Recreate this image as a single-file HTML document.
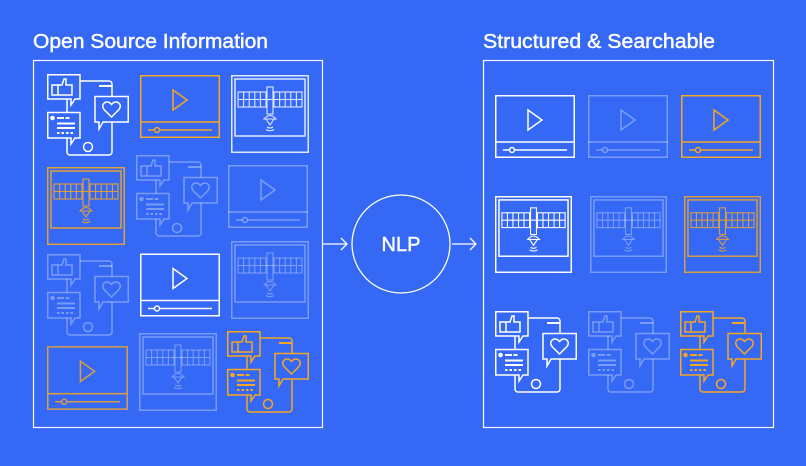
<!DOCTYPE html>
<html><head><meta charset="utf-8"><style>
html,body{margin:0;padding:0;background:#3468F5;}
svg{display:block}
text{font-family:"Liberation Sans",sans-serif;fill:#fff}
.t{stroke:#fff;stroke-width:0.45}
.w{color:#ffffff}.f{color:rgba(255,255,255,0.35)}.o{color:#F5A623}
</style></head><body>
<svg width="806" height="466" viewBox="0 0 806 466" xmlns="http://www.w3.org/2000/svg">
<defs>
<symbol id="vid" viewBox="0 0 80 63">
 <g fill="none" stroke="currentColor" stroke-width="1.5">
  <rect x="0.75" y="0.75" width="78.5" height="61.5"/>
  <line x1="0" y1="47" x2="80" y2="47"/>
  <line x1="8" y1="55" x2="72" y2="55"/>
  <circle cx="17" cy="55" r="2.5" fill="#3468F5"/>
  <path d="M33 15 L47 25 L33 35 Z"/>
 </g>
</symbol>
<symbol id="sat" viewBox="0 0 78 78">
 <g fill="none" stroke="currentColor" stroke-width="1.1">
  <rect x="0.75" y="0.75" width="76.5" height="76.5" stroke-width="1.5"/>
  <rect x="4" y="4" width="70" height="57" stroke-width="1.5"/>
  <rect x="7" y="17" width="28" height="15"/>
  <path d="M7 24.5H35M12.6 17V32M18.2 17V32M23.8 17V32M29.4 17V32"/>
  <rect x="43" y="17" width="28" height="15"/>
  <path d="M43 24.5H71M48.6 17V32M54.2 17V32M59.8 17V32M65.4 17V32"/>
  <rect x="36" y="12" width="6" height="27"/>
  <path d="M35 24.5H43"/>
  <path d="M33 44 Q39 37 45 44 Z"/>
  <path d="M35 44 L39 50 L43 44 M36 52 Q39 54 42 52 M35 54.5 Q39 57 43 54.5"/>
 </g>
</symbol>
<symbol id="soc" viewBox="0 0 82 82">
 <g fill="none" stroke="currentColor" stroke-width="1.5">
  <rect x="20" y="7" width="45" height="74" rx="3"/>
  <path d="M0.75 0.75H33V25H28L24 31V25H0.75Z" fill="#3468F5"/>
  <path d="M5 11H11V21H5Z M11 11H15L17 5H19V11H25V21H11"/>
  <path d="M48 22.5H81.25V48H56L52 55V48H48Z" fill="#3468F5"/>
  <path d="M64.5 43 L57 35.5 Q54 31 58 28.5 Q61.5 27 64.5 30.5 Q67.5 27 71 28.5 Q75 31 72 35.5 Z"/>
  <path d="M0.75 38.5H33V64H28L24 70V64H0.75Z" fill="#3468F5"/>
  <circle cx="41" cy="73" r="4.5"/>
 </g>
 <g fill="currentColor">
  <rect x="52" y="11" width="13" height="2"/>
  <circle cx="5.5" cy="44" r="2.3"/>
  <rect x="10" y="43" width="7" height="2"/><rect x="18.5" y="43" width="4" height="2"/>
  <rect x="10" y="48.5" width="18" height="2"/><rect x="10" y="53" width="18" height="2"/>
  <rect x="10" y="58" width="2.5" height="2"/><rect x="14.5" y="58" width="2.5" height="2"/><rect x="19" y="58" width="2.5" height="2"/><rect x="23.5" y="58" width="2.5" height="2"/>
 </g>
</symbol>
</defs>

<text class="t" x="33" y="48" font-size="20" textLength="235" lengthAdjust="spacingAndGlyphs">Open Source Information</text>
<text class="t" x="483" y="48" font-size="20" textLength="232" lengthAdjust="spacingAndGlyphs">Structured &amp; Searchable</text>

<rect x="33.5" y="60.5" width="289" height="367" fill="none" stroke="#fff" stroke-width="1.2"/>
<rect x="483.5" y="60.5" width="290" height="367" fill="none" stroke="#fff" stroke-width="1.2"/>

<use href="#soc" class="w" x="47" y="74" width="82" height="82"/>
<use href="#vid" class="o" x="140" y="75" width="80" height="63"/>
<use href="#sat" class="w" x="231" y="75" width="78" height="78" opacity="0.85"/>

<use href="#sat" class="o" x="47" y="167" width="78" height="78" opacity="0.9"/>
<use href="#soc" class="f" x="136" y="155" width="82" height="82"/>
<use href="#vid" class="f" x="228" y="165" width="80" height="63"/>

<use href="#soc" class="f" x="47" y="254" width="82" height="82"/>
<use href="#vid" class="w" x="140" y="253" width="80" height="64"/>
<use href="#sat" class="f" x="231" y="241" width="78" height="78"/>

<use href="#vid" class="o" x="47" y="346" width="81" height="64" opacity="0.85"/>
<use href="#sat" class="f" x="139" y="333" width="78" height="78"/>
<use href="#soc" class="o" x="227" y="331" width="82" height="82"/>

<g stroke="#fff" stroke-width="1.3" fill="none">
 <path d="M323 244H347M341 238L347 244L341 250"/>
 <path d="M452 244H476M470 238L476 244L470 250"/>
 <circle cx="401" cy="244" r="49"/>
</g>
<text class="t" x="401" y="251" font-size="20" text-anchor="middle">NLP</text>

<use href="#vid" class="w" x="495" y="95" width="80" height="63"/>
<use href="#vid" class="f" x="588" y="95" width="80" height="63"/>
<use href="#vid" class="o" x="681" y="95" width="80" height="63"/>

<use href="#sat" class="w" x="495" y="196" width="77" height="77"/>
<use href="#sat" class="f" x="590" y="196" width="77" height="77"/>
<use href="#sat" class="o" x="684" y="196" width="77" height="77" opacity="0.85"/>

<use href="#soc" class="w" x="495" y="311" width="82" height="82"/>
<use href="#soc" class="f" x="588" y="311" width="82" height="82"/>
<use href="#soc" class="o" x="680" y="311" width="82" height="82"/>
</svg>
</body></html>
